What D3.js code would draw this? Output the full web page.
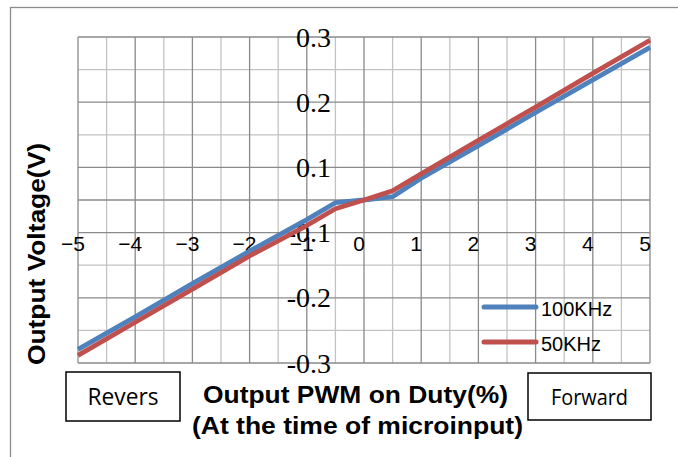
<!DOCTYPE html>
<html><head><meta charset="utf-8">
<script src="https://cdn.jsdelivr.net/npm/d3@7"></script>
<style>body{margin:0;background:#fff}svg{display:block}</style>
</head><body>
<script>
// ---- data ----
const duty = [-5, -4, -3, -2, -1, -0.5, 0, 0.5, 1, 2, 3, 4, 5];
const v100k = [-0.275, -0.215, -0.154, -0.094, -0.036, -0.005, 0, 0.006, 0.040, 0.100, 0.161, 0.221, 0.281];
const v50k = [-0.286, -0.225, -0.164, -0.103, -0.047, -0.016, 0, 0.017, 0.048, 0.110, 0.171, 0.233, 0.294];
const seriesNames = ["100KHz", "50KHz"];
const xTickValues = [-5, -4, -3, -2, -1, 0, 1, 2, 3, 4, 5];
const xTickLabels = ["\u22125", "\u22124", "\u22123", "\u22122", "\u22121", "0", "1", "2", "3", "4", "5"];
const yTickValues = [0.3, 0.18, 0.06, -0.06, -0.18, -0.3];
const yTickLabels = ["0.3", "0.2", "0.1", "-0.1", "-0.2", "-0.3"];
const xTitle = ["Output PWM on Duty(%)", "(At the time of microinput)"];
const yTitle = "Output Voltage(V)";
const boxLabels = ["Revers", "Forward"];

const W = 678, H = 457;
const svg = d3.select("body").append("svg").attr("width", W).attr("height", H);

// outer frame
svg.append("rect").attr("x", 10.5).attr("y", 7.5).attr("width", 700).attr("height", 500)
  .attr("fill", "#fff").attr("stroke", "#8c8c8c").attr("stroke-width", 1.3);

const x = d3.scaleLinear().domain([-5, 5]).range([78, 650]);
const y = d3.scaleLinear().domain([-0.3, 0.3]).range([363, 37]);

// grid
const g = svg.append("g");
const minorX = d3.range(-4.5, 5, 1);
const majorX = d3.range(-5, 5.01, 1);
const minorY = d3.range(-0.24, 0.25, 0.12);
const majorY = yTickValues;
g.selectAll(".mx").data(minorX).join("line")
  .attr("x1", d => x(d)).attr("x2", d => x(d)).attr("y1", y(0.3)).attr("y2", y(-0.3))
  .attr("stroke", "#c3c3c3").attr("stroke-width", 1.3);
g.selectAll(".my").data(minorY).join("line")
  .attr("y1", d => y(d)).attr("y2", d => y(d)).attr("x1", x(-5)).attr("x2", x(5))
  .attr("stroke", d => Math.abs(d) < 1e-9 ? "#8a8a8a" : "#c3c3c3").attr("stroke-width", 1.3);
g.selectAll(".Mx").data(majorX).join("line")
  .attr("x1", d => x(d)).attr("x2", d => x(d)).attr("y1", y(0.3)).attr("y2", y(-0.3))
  .attr("stroke", "#8a8a8a").attr("stroke-width", 1.3);
g.selectAll(".My").data(majorY).join("line")
  .attr("y1", d => y(d)).attr("y2", d => y(d)).attr("x1", x(-5)).attr("x2", x(5))
  .attr("stroke", "#8a8a8a").attr("stroke-width", 1.3);

// tick labels
svg.append("g").selectAll("text").data(xTickValues).join("text")
  .attr("x", d => x(d) - 5).attr("y", 251)
  .attr("text-anchor", "middle")
  .attr("font-family", "Liberation Sans, Arial, sans-serif").attr("font-size", 21)
  .attr("fill", "#000")
  .text((d, i) => xTickLabels[i]);

svg.append("g").selectAll("text").data(yTickValues).join("text")
  .attr("x", 331).attr("y", d => y(d) + 9.5)
  .attr("text-anchor", "end")
  .attr("font-family", "Liberation Serif, Times New Roman, serif").attr("font-size", 28)
  .attr("fill", "#000")
  .text((d, i) => yTickLabels[i]);

// series
const series = [
  {name: seriesNames[0], values: v100k, color: "#4f81bd"},
  {name: seriesNames[1], values: v50k, color: "#c0504d"}
];
const line = d3.line().x((d, i) => x(duty[i])).y(d => y(d));
svg.append("g").selectAll("path").data(series).join("path")
  .attr("d", d => line(d.values))
  .attr("fill", "none").attr("stroke", d => d.color).attr("stroke-width", 4.8)
  .attr("stroke-linejoin", "round");

// legend
const leg = svg.append("g");
const legY = [307, 342];
series.forEach((s, i) => {
  leg.append("line").attr("x1", 484).attr("x2", 536).attr("y1", legY[i]).attr("y2", legY[i])
    .attr("stroke", s.color).attr("stroke-width", 5).attr("stroke-linecap", "round");
  leg.append("text").attr("x", 541).attr("y", legY[i] + 8.5)
    .attr("font-family", "Liberation Sans, Arial, sans-serif").attr("font-size", 20)
    .attr("fill", "#000").text(s.name);
});

// axis titles
const tf = "Liberation Sans, Arial, sans-serif";
svg.append("text").attr("x", 355.5).attr("y", 403).attr("text-anchor", "middle")
  .attr("font-family", tf).attr("font-weight", "bold").attr("font-size", 24)
  .attr("textLength", 305).attr("lengthAdjust", "spacingAndGlyphs").text(xTitle[0]);
svg.append("text").attr("x", 357.5).attr("y", 434).attr("text-anchor", "middle")
  .attr("font-family", tf).attr("font-weight", "bold").attr("font-size", 24)
  .attr("textLength", 331).attr("lengthAdjust", "spacingAndGlyphs").text(xTitle[1]);
svg.append("text").attr("transform", "translate(45,254) rotate(-90)").attr("text-anchor", "middle")
  .attr("font-family", tf).attr("font-weight", "bold").attr("font-size", 24)
  .attr("textLength", 222).attr("lengthAdjust", "spacingAndGlyphs").text(yTitle);

// boxes
const boxes = [
  {x: 66, y: 372, w: 114, h: 49, label: boxLabels[0], fs: 23, tl: 71},
  {x: 528, y: 373, w: 123, h: 47, label: boxLabels[1], fs: 21, tl: 77}
];
boxes.forEach(b => {
  svg.append("rect").attr("x", b.x).attr("y", b.y).attr("width", b.w).attr("height", b.h)
    .attr("fill", "#fff").attr("stroke", "#000").attr("stroke-width", 1.5);
  svg.append("text").attr("x", b.x + b.w / 2).attr("y", 405).attr("text-anchor", "middle")
    .attr("font-family", "Open Sans, Liberation Sans, sans-serif").attr("font-size", b.fs)
    .attr("textLength", b.tl).attr("lengthAdjust", "spacingAndGlyphs").text(b.label);
});
</script>
</body></html>
